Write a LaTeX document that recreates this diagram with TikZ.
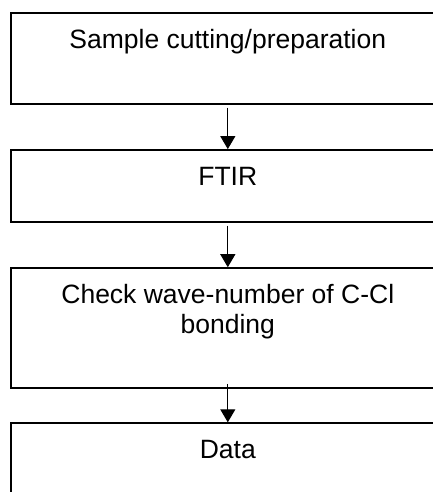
\documentclass[tikz,border=0pt]{standalone}
\usepackage{fontspec}
\setmainfont{Liberation Sans}
\usetikzlibrary{arrows.meta,positioning}

\begin{document}
\begin{tikzpicture}[node distance=44.5pt,
    flowbox/.style={draw,rectangle,line width=1.6pt,minimum width=434pt,inner xsep=0pt,inner ysep=17pt,
      text height=18.8pt,align=center,font=\fontsize{26.5}{30}\selectfont},
    flow/.style={-{Triangle[length=13pt,width=15pt]},line width=1.1pt,shorten <=3pt}]
  \useasboundingbox (0,0) rectangle (433pt,-492pt);
  \clip (0,0) rectangle (433pt,-492pt);
  \node[flowbox,text depth=38.2pt,anchor=north west] (prep) at (10pt,-12pt) {Sample cutting/preparation};
  \node[flowbox,text depth=19.2pt] [below=of prep] (ftir) {FTIR};
  \node[flowbox,text height=48.8pt,text depth=37.2pt] [below=of ftir] (check) {Check wave-number of C-Cl\\bonding};
  \node[flowbox,text depth=60pt] [below=33.5pt of check] (data) {Data};
  \path[flow]
    (prep) edge (ftir)
    (ftir) edge (check)
    (check) edge[shorten <=-5pt] (data);
\end{tikzpicture}
\end{document}
